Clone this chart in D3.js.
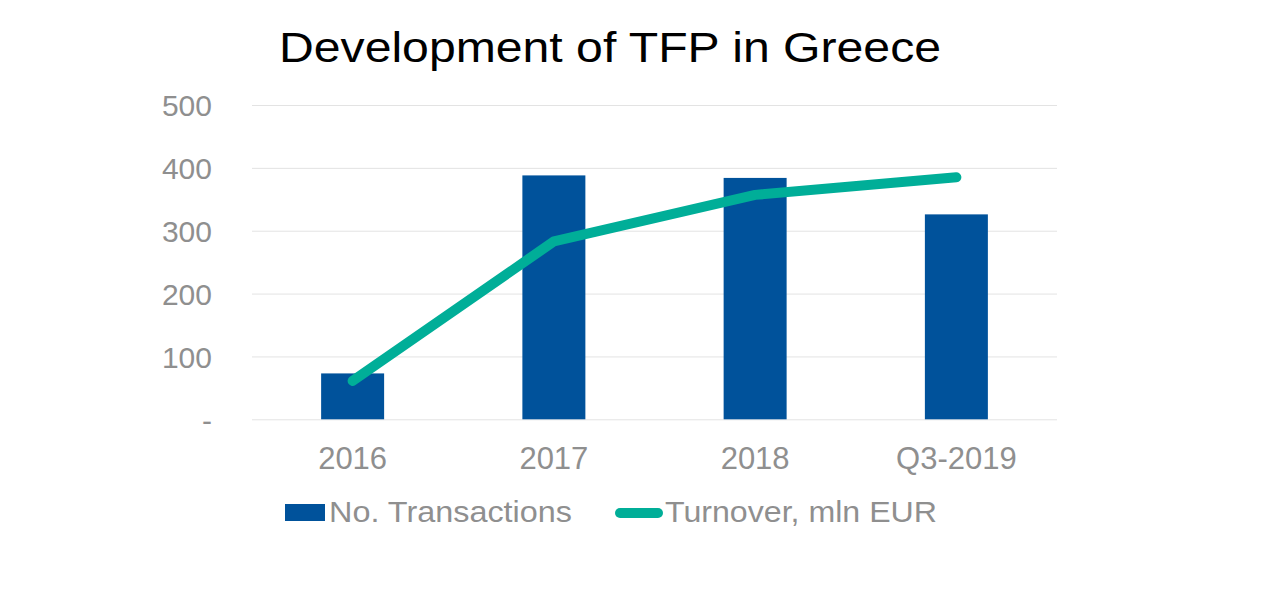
<!DOCTYPE html>
<html>
<head>
<meta charset="utf-8">
<script src="https://cdn.jsdelivr.net/npm/d3@7/dist/d3.min.js"></script>
<style>
  body { margin: 0; background: #fff; }
  text { font-family: Arial, "Liberation Sans", sans-serif; }
</style>
</head>
<body>
<div id="chart"></div>
<script>
//chart data//
var categories = ["2016", "2017", "2018", "Q3-2019"];
var transactions = [73, 388, 384, 326];
var turnover = [61, 283, 357, 385];
var yTicks = [0, 100, 200, 300, 400, 500];

var w = 1280;
var h = 597;

var svg = d3.select("#chart")
  .append("svg")
  .attr("width", w)
  .attr("height", h);

//scales - plot area from the gridlines//
var x = d3.scaleBand()
  .domain(categories)
  .range([252, 1057])
  .paddingInner(0.687)
  .paddingOuter(0.3435);

var y = d3.scaleLinear()
  .domain([0, 500])
  .range([419.3, 105]);

//title//
svg.append("text")
  .attr("x", 279)
  .attr("y", 62)
  .attr("font-size", "43px")
  .attr("fill", "#000")
  .attr("textLength", 662)
  .attr("lengthAdjust", "spacingAndGlyphs")
  .text("Development of TFP in Greece");

//gridlines and y labels//
var yAxis = d3.axisLeft(y)
  .tickValues(yTicks)
  .tickSize(-(1057 - 252))
  .tickPadding(40)
  .tickFormat(function(d) {
    return d === 0 ? "-" : d;
  });

var gy = svg.append("g")
  .attr("transform", "translate(252,0)")
  .call(yAxis);

gy.select(".domain").remove();
gy.selectAll(".tick line")
  .attr("stroke", "#e3e3e3")
  .attr("stroke-width", 1);
gy.selectAll(".tick text")
  .attr("font-size", "30px")
  .attr("fill", "#8f8f8f")
  .attr("font-family", "Arial, 'Liberation Sans', sans-serif")
  .attr("dy", "0.36em");

//bars//
svg.selectAll("rect.bar")
  .data(transactions)
  .enter()
  .append("rect")
  .attr("class", "bar")
  .attr("x", function(d, i) { return x(categories[i]); })
  .attr("width", x.bandwidth())
  .attr("y", function(d) { return y(d); })
  .attr("height", function(d) { return y(0) - y(d); })
  .attr("fill", "#00529b");

//turnover line//
var line = d3.line()
  .x(function(d, i) { return x(categories[i]) + x.bandwidth() / 2; })
  .y(function(d) { return y(d); });

svg.append("path")
  .datum(turnover)
  .attr("d", line)
  .attr("fill", "none")
  .attr("stroke", "#00ae98")
  .attr("stroke-width", 10)
  .attr("stroke-linecap", "round")
  .attr("stroke-linejoin", "round");

//x labels//
var xAxis = d3.axisBottom(x)
  .tickSize(0)
  .tickPadding(0);

var gx = svg.append("g")
  .attr("transform", "translate(0,469)")
  .call(xAxis);

gx.select(".domain").remove();
gx.selectAll(".tick text")
  .attr("font-size", "31px")
  .attr("fill", "#8f8f8f")
  .attr("font-family", "Arial, 'Liberation Sans', sans-serif")
  .attr("dy", 0);

//legend//
var legend = svg.append("g");

legend.append("rect")
  .attr("x", 285)
  .attr("y", 504)
  .attr("width", 40)
  .attr("height", 17)
  .attr("fill", "#00529b");

legend.append("text")
  .attr("x", 329)
  .attr("y", 522)
  .attr("font-size", "30px")
  .attr("fill", "#8f8f8f")
  .attr("textLength", 243)
  .attr("lengthAdjust", "spacingAndGlyphs")
  .text("No. Transactions");

legend.append("line")
  .attr("x1", 620)
  .attr("x2", 658)
  .attr("y1", 513)
  .attr("y2", 513)
  .attr("stroke", "#00ae98")
  .attr("stroke-width", 10)
  .attr("stroke-linecap", "round");

legend.append("text")
  .attr("x", 665)
  .attr("y", 522)
  .attr("font-size", "30px")
  .attr("fill", "#8f8f8f")
  .attr("textLength", 272)
  .attr("lengthAdjust", "spacingAndGlyphs")
  .text("Turnover, mln EUR");
</script>
</body>
</html>
